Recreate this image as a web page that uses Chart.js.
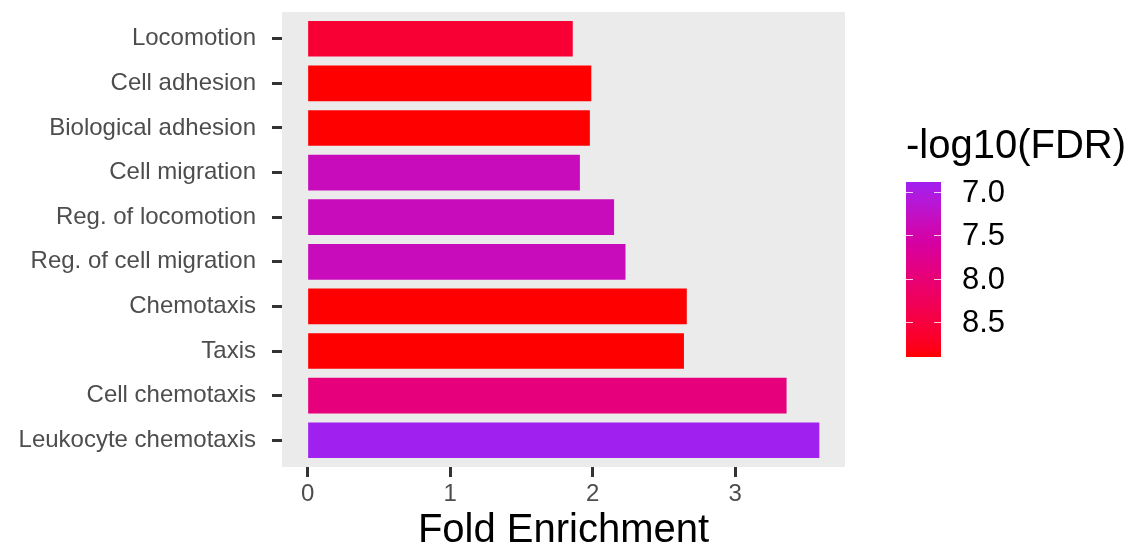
<!DOCTYPE html>
<html>
<head>
<meta charset="utf-8">
<script src="https://cdn.jsdelivr.net/npm/chart.js@4/dist/chart.umd.min.js"></script>
<style>
  html, body { margin: 0; padding: 0; background: #fff; }
  #wrap { width: 1135px; height: 553px; position: relative; }
</style>
</head>
<body>
<div id="wrap"><canvas id="goChart"></canvas></div>
<script>
// -------- Data --------
const terms = ['Locomotion', 'Cell adhesion', 'Biological adhesion', 'Cell migration',
  'Reg. of locomotion', 'Reg. of cell migration', 'Chemotaxis', 'Taxis',
  'Cell chemotaxis', 'Leukocyte chemotaxis'];
const foldEnrichment = [1.86, 1.99, 1.98, 1.91, 2.15, 2.23, 2.66, 2.64, 3.36, 3.59];
const negLog10Fdr = [8.6, 8.91, 8.91, 7.35, 7.35, 7.35, 8.91, 8.91, 7.95, 6.88];
const xTicks = [0, 1, 2, 3];
const legendTicks = [7.0, 7.5, 8.0, 8.5];
const fdrLimits = [6.88, 8.91];

// -------- Colour scale (purple -> red, interpolated in Lab like ggplot) --------
const lowColor = [160, 32, 240];
const highColor = [255, 0, 0];

function toLin(c) { c /= 255; return c <= 0.04045 ? c / 12.92 : Math.pow((c + 0.055) / 1.055, 2.4); }
function fromLin(c) { c = c <= 0.0031308 ? 12.92 * c : 1.055 * Math.pow(c, 1 / 2.4) - 0.055; return Math.max(0, Math.min(255, Math.round(c * 255))); }
const WHITE = [0.95047, 1, 1.08883];
function f(t) { return t > 0.008856 ? Math.cbrt(t) : 7.787 * t + 16 / 116; }
function finv(t) { return t > 0.206893 ? t * t * t : (t - 16 / 116) / 7.787; }

function rgbToLab(rgb) {
  const [r, g, b] = rgb.map(toLin);
  const x = (0.4124 * r + 0.3576 * g + 0.1805 * b) / WHITE[0];
  const y = (0.2126 * r + 0.7152 * g + 0.0722 * b) / WHITE[1];
  const z = (0.0193 * r + 0.1192 * g + 0.9505 * b) / WHITE[2];
  return [116 * f(y) - 16, 500 * (f(x) - f(y)), 200 * (f(y) - f(z))];
}
function labToRgb(lab) {
  const fy = (lab[0] + 16) / 116, fx = fy + lab[1] / 500, fz = fy - lab[2] / 200;
  const x = finv(fx) * WHITE[0], y = finv(fy) * WHITE[1], z = finv(fz) * WHITE[2];
  const r = 3.2406 * x - 1.5372 * y - 0.4986 * z;
  const g = -0.9689 * x + 1.8758 * y + 0.0415 * z;
  const b = 0.0557 * x - 0.2040 * y + 1.0570 * z;
  return [fromLin(r), fromLin(g), fromLin(b)];
}
const lowLab = rgbToLab(lowColor), highLab = rgbToLab(highColor);

function fdrColor(v) {
  let t = (v - fdrLimits[0]) / (fdrLimits[1] - fdrLimits[0]);
  t = Math.max(0, Math.min(1, t));
  const lab = lowLab.map((c, i) => c + (highLab[i] - c) * t);
  const [r, g, b] = labToRgb(lab);
  return `rgb(${r},${g},${b})`;
}

// -------- Plugins: grey panel + colourbar legend --------
const panelBg = {
  id: 'panelBg',
  beforeDraw(chart) {
    const { ctx, chartArea: a } = chart;
    ctx.save();
    ctx.fillStyle = '#EBEBEB';
    ctx.fillRect(a.left, a.top, a.right - a.left, a.bottom - a.top);
    ctx.restore();
  }
};

const colourBar = {
  id: 'colourBar',
  afterDraw(chart) {
    const ctx = chart.ctx;
    const x0 = 906, x1 = 941, y0 = 182, y1 = 357;
    const yFor = v => y0 + (v - fdrLimits[0]) / (fdrLimits[1] - fdrLimits[0]) * (y1 - y0);
    ctx.save();
    const grad = ctx.createLinearGradient(0, y0, 0, y1);
    for (let i = 0; i <= 20; i++) {
      grad.addColorStop(i / 20, fdrColor(fdrLimits[0] + (fdrLimits[1] - fdrLimits[0]) * i / 20));
    }
    ctx.fillStyle = grad;
    ctx.fillRect(x0, y0, x1 - x0, y1 - y0);

    // title
    ctx.fillStyle = '#000';
    ctx.font = '40px "Liberation Sans", Arial, sans-serif';
    ctx.textAlign = 'left';
    ctx.textBaseline = 'alphabetic';
    ctx.fillText('-log10(FDR)', 906, 158);

    // ticks + labels
    ctx.font = '31px "Liberation Sans", Arial, sans-serif';
    ctx.textBaseline = 'middle';
    ctx.strokeStyle = 'rgba(255,255,255,0.8)';
    ctx.lineWidth = 1;
    legendTicks.forEach(v => {
      const y = Math.round(yFor(v)) + 0.5;
      ctx.beginPath();
      ctx.moveTo(x0, y); ctx.lineTo(x0 + 7, y);
      ctx.moveTo(x1 - 7, y); ctx.lineTo(x1, y);
      ctx.stroke();
      ctx.fillText(v.toFixed(1), 962, y + 1);
    });
    ctx.restore();
  }
};

// -------- Chart --------
const ctx = document.getElementById('goChart').getContext('2d');
const fontFamily = '"Liberation Sans", Arial, sans-serif';

new Chart(ctx, {
  type: 'bar',
  data: {
    datasets: [{
      data: foldEnrichment.map((v, i) => ({ x: v, y: i })),
      backgroundColor: negLog10Fdr.map(fdrColor),
      borderWidth: 0,
      categoryPercentage: 0.8,
      barPercentage: 1.0
    }]
  },
  options: {
    indexAxis: 'y',
    responsive: true,
    maintainAspectRatio: false,
    animation: false,
    layout: { padding: { top: 12, right: 290, bottom: 0, left: 0 } },
    plugins: {
      legend: { display: false },
      tooltip: { enabled: false }
    },
    scales: {
      x: {
        type: 'linear',
        min: -0.18,
        max: 3.77,
        afterBuildTicks: s => { s.ticks = xTicks.map(v => ({ value: v })); },
        afterFit: s => { s.height = 86; s.paddingLeft = 0; s.paddingRight = 0; },
        border: { display: false },
        grid: { drawOnChartArea: false, color: '#333', tickColor: '#333', tickLength: 10, tickWidth: 3 },
        ticks: { color: '#4D4D4D', font: { family: fontFamily, size: 24 }, padding: 3 },
        title: {
          display: true,
          text: 'Fold Enrichment',
          color: '#000',
          font: { family: fontFamily, size: 40, lineHeight: 1 },
          padding: { top: 0, bottom: 2 }
        }
      },
      y: {
        type: 'linear',
        reverse: true,
        offset: false,
        min: -0.6,
        max: 9.6,
        afterBuildTicks: s => { s.ticks = terms.map((t, i) => ({ value: i })); },
        afterFit: s => { s.width = 282; s.paddingTop = 0; s.paddingBottom = 0; },
        border: { display: false },
        grid: { offset: false, drawOnChartArea: false, color: '#333', tickColor: '#333', tickLength: 10, tickWidth: 3 },
        ticks: {
          color: '#4D4D4D',
          font: { family: fontFamily, size: 24 },
          padding: 16,
          callback: v => terms[v]
        }
      }
    }
  },
  plugins: [panelBg, colourBar]
});
</script>
</body>
</html>
